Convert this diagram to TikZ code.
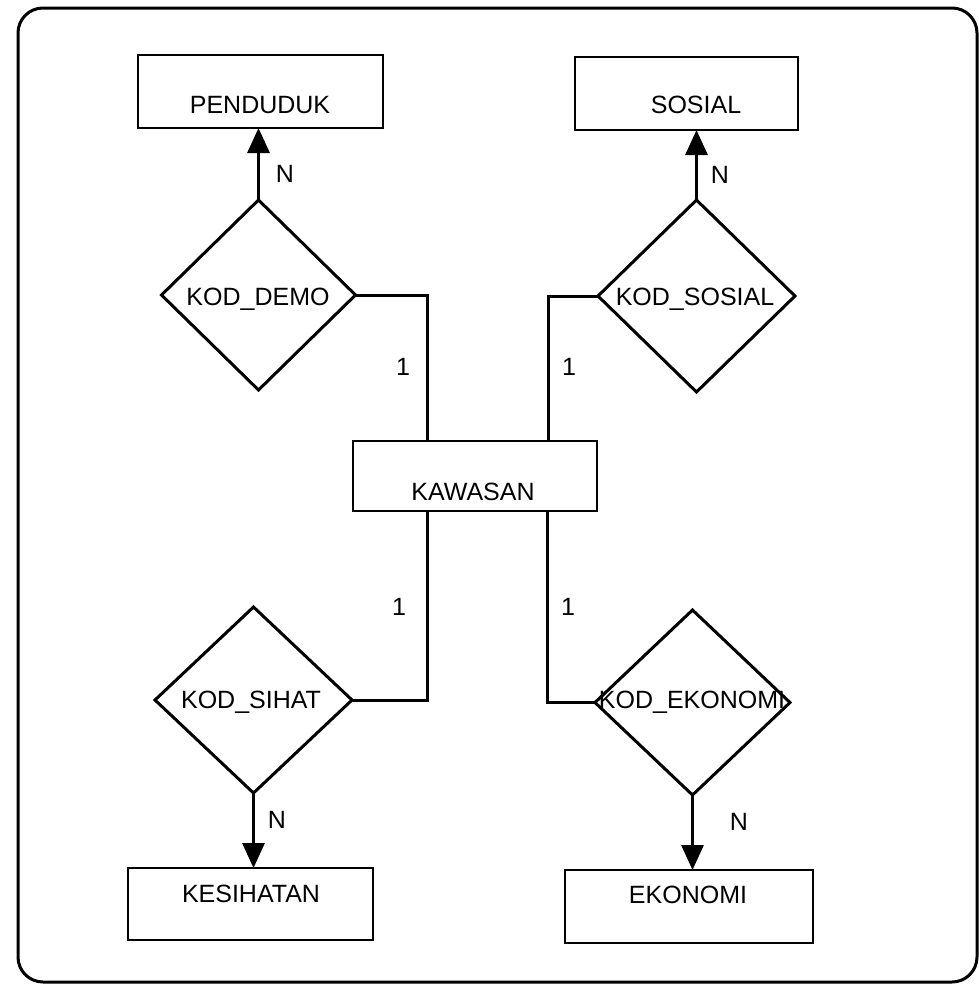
\documentclass[tikz,border=0pt]{standalone}
\usepackage{fontspec}
\setmainfont{Liberation Sans}
\usetikzlibrary{shapes.geometric,arrows.meta}
\tikzset{
  ent/.style={draw, line width=2.8pt, inner sep=0pt, outer sep=0pt},
  rel/.style={draw, shape=diamond, line width=3pt, inner sep=0pt, outer sep=0pt},
  txt/.style={anchor=base, inner sep=0pt, font=\fontsize{25}{30}\selectfont},
  card/.style={anchor=base, inner sep=0pt, font=\fontsize{25}{30}\selectfont},
  conn/.style={line width=3pt},
  arr/.style={line width=3pt, -{Triangle[length=25pt,width=22pt]}},
  frame/.style={line width=3pt, rounded corners=25pt}
}
\begin{document}
\begin{tikzpicture}[x=1pt, y=-1pt]
\useasboundingbox (0,0) rectangle (979,986);
\draw[frame] (18,8) rectangle (977,982);

% entities
\node[ent, minimum width=245pt, minimum height=73pt] (pend) at (260.5,91.5) {};
\node[ent, minimum width=223pt, minimum height=73pt] (sos) at (686.5,93.5) {};
\node[ent, minimum width=244pt, minimum height=70pt] (kaw) at (475,476) {};
\node[ent, minimum width=245pt, minimum height=72pt] (kes) at (250.5,904) {};
\node[ent, minimum width=248pt, minimum height=73pt] (eko) at (689,906.5) {};

\node[txt] (tpend) at (260,113) {PENDUDUK};
\node[txt] (tsos) at (696,113) {SOSIAL};
\node[txt] (tkaw) at (473,500) {KAWASAN};
\node[txt] (tkes) at (251,902) {KESIHATAN};
\node[txt] (teko) at (688,903) {EKONOMI};

% relationships
\node[rel, minimum width=194pt, minimum height=190pt] (demd) at (258.5,295) {};
\node[rel, minimum width=197pt, minimum height=192pt] (sosd) at (696.5,296) {};
\node[rel, minimum width=197pt, minimum height=186pt] (sihd) at (253.5,700) {};
\node[rel, minimum width=195pt, minimum height=185pt] (ekod) at (692.5,702.5) {};

\node[txt] (tdemd) at (258,305) {KOD\_DEMO};
\node[txt] (tsosd) at (695,305) {KOD\_SOSIAL};
\node[txt] (tsihd) at (251,708) {KOD\_SIHAT};
\node[txt] (tekod) at (692,708) {KOD\_EKONOMI};

% connectors to KAWASAN
\draw[conn] (demd.east) -| ([xshift=-48pt]kaw.north);
\draw[conn] (sosd.west) -| ([xshift=73pt]kaw.north);
\draw[conn] (sihd.east) -| ([xshift=-48pt]kaw.south);
\draw[conn] (ekod.west) -| ([xshift=72pt]kaw.south);

% arrows to entities
\draw[arr] (demd.north) -- (demd.north |- pend.south);
\draw[arr] (sosd.north) -- (sosd.north |- sos.south);
\draw[arr] (sihd.south) -- (sihd.south |- kes.north);
\draw[arr] (ekod.south) -- (ekod.south |- eko.north);

% cardinalities
\node[card] (n1) at (285,182) {N};
\node[card] (n2) at (720,183) {N};
\node[card] (n3) at (277,828) {N};
\node[card] (n4) at (739,830) {N};
\node[card] (o1) at (403,375) {1};
\node[card] (o2) at (569,375) {1};
\node[card] (o3) at (399,615) {1};
\node[card] (o4) at (568,615) {1};
\end{tikzpicture}
\end{document}
